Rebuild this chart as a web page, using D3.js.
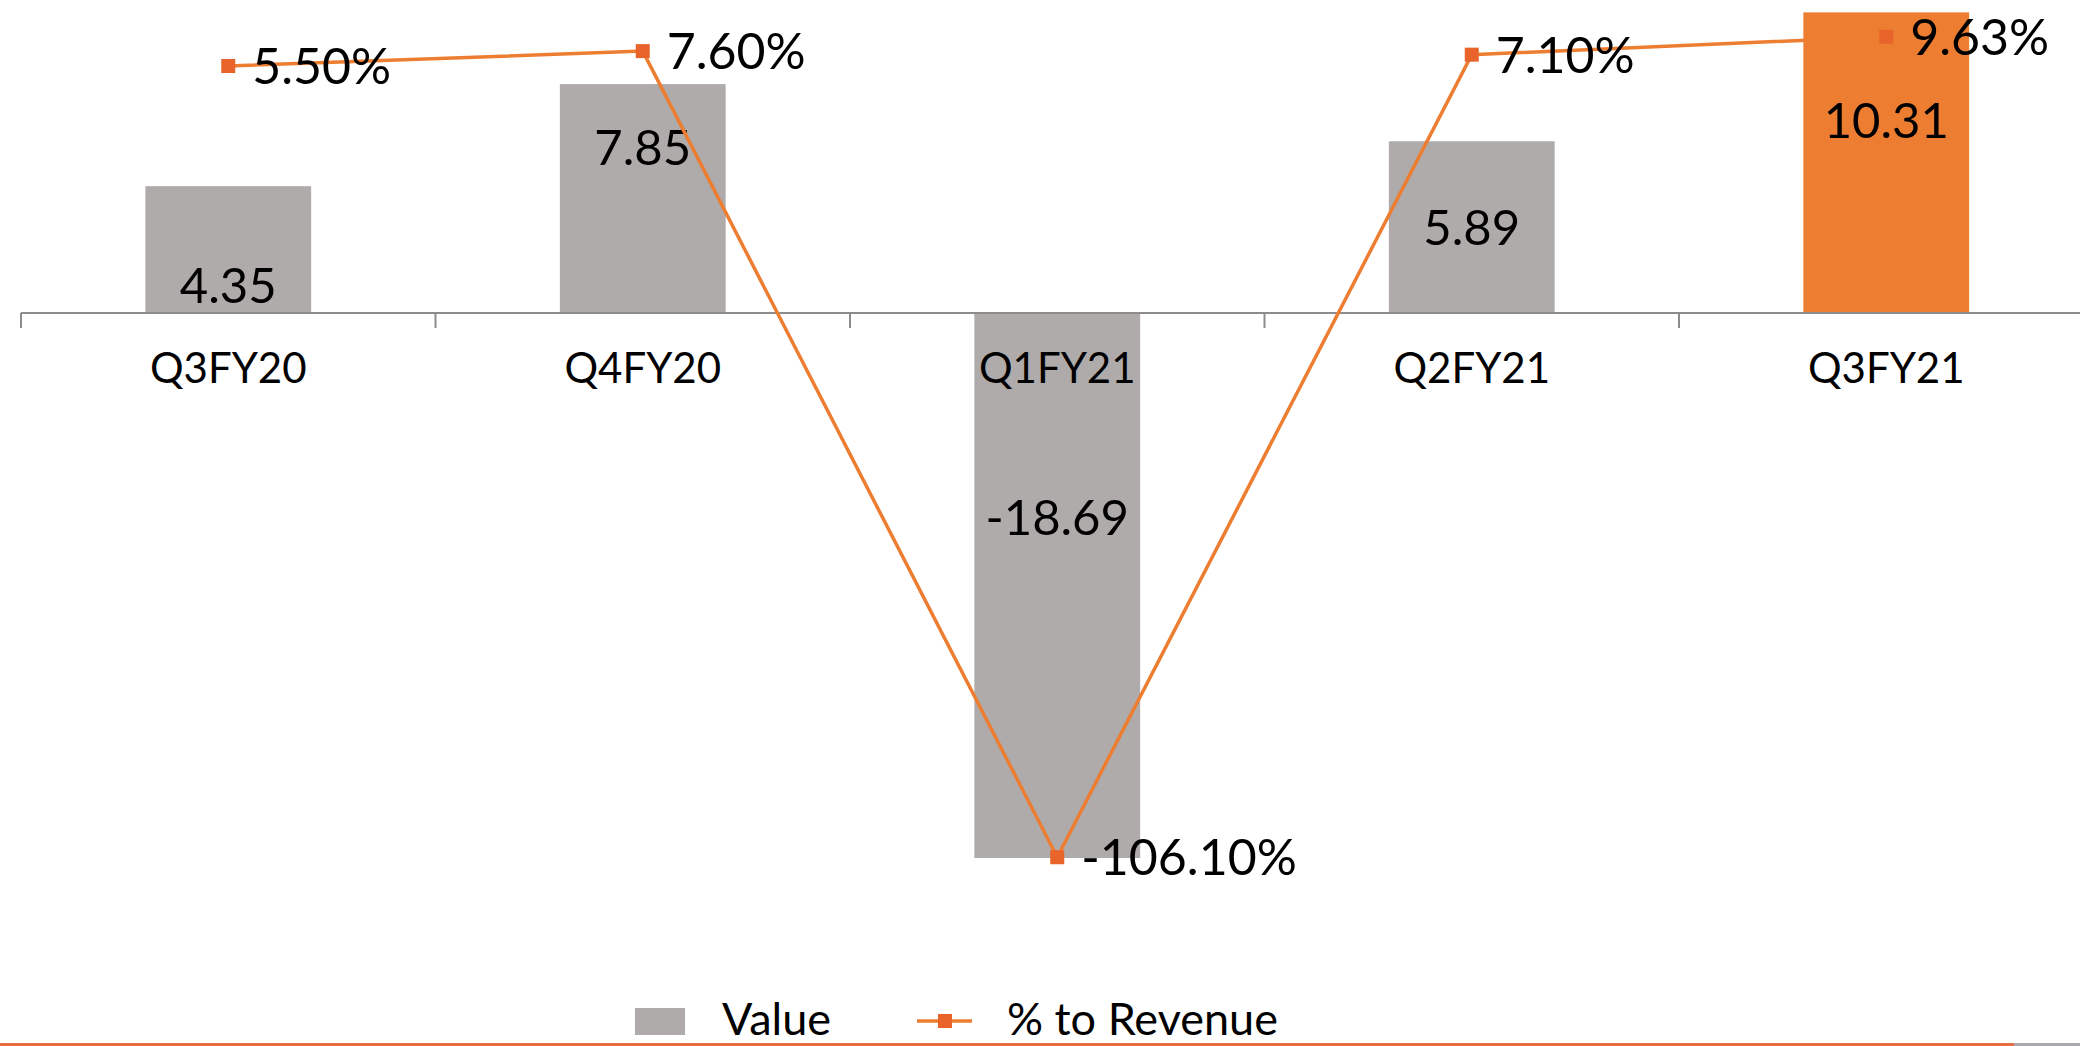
<!DOCTYPE html>
<html>
<head>
<meta charset="utf-8">
<script src="https://d3js.org/d3.v7.min.js"></script>
<style>
  html, body { margin: 0; padding: 0; background: #fff; overflow: hidden; }
  text { font-family: Lato, "Open Sans", sans-serif; fill: #000; }
</style>
</head>
<body>
<div id="my_chart"></div>
<script>
// data
var categories = ["Q3FY20", "Q4FY20", "Q1FY21", "Q2FY21", "Q3FY21"];
var values = [4.35, 7.85, -18.69, 5.89, 10.31];
var valueLabels = ["4.35", "7.85", "-18.69", "5.89", "10.31"];
var pctRevenue = [5.50, 7.60, -106.10, 7.10, 9.63];
var pctLabels = ["5.50%", "7.60%", "-106.10%", "7.10%", "9.63%"];
var seriesNames = ["Value", "% to Revenue"];

// where each value label sits inside its bar (in bar units, as placed in the original)
var valueLabelAt = [0.96, 5.68, -7.0, 2.93, 6.62];

var width = 2080, height = 1046;
var svg, x, y, y2;

initChart();

function initChart()
{
  svg = d3.select("#my_chart")
    .append("svg")
    .attr("width", width)
    .attr("height", height);

  // category scale, bands run from the left axis edge past the right border
  x = d3.scaleBand()
    .domain(categories)
    .range([21, 2093.5])
    .padding(0);

  // primary axis for the bars
  y = d3.scaleLinear()
    .domain([-20, 12])
    .range([896.2, -36.9]);

  // secondary axis for the percentage line
  y2 = d3.scaleLinear()
    .domain([-120, 10])
    .range([955.8, 34.1]);

  var barW = x.bandwidth() * 0.4;

  // bars
  svg.selectAll("rect.bar")
    .data(values)
    .enter()
    .append("rect")
    .attr("class", "bar")
    .attr("x", function(d, i) { return x(categories[i]) + (x.bandwidth() - barW) / 2; })
    .attr("y", function(d) { return y(Math.max(0, d)); })
    .attr("width", barW)
    .attr("height", function(d) { return Math.abs(y(d) - y(0)); })
    .attr("fill", function(d, i) { return i == categories.length - 1 ? "#ED7D31" : "#AEABAA"; });

  // X axis on the zero line
  var xAxis = svg.append("g")
    .attr("transform", "translate(0," + y(0) + ")")
    .call(d3.axisBottom(x).tickSize(0).tickSizeOuter(0));

  xAxis.select(".domain")
    .attr("d", "M21,0H2080")
    .attr("stroke", "#8C8C8C")
    .attr("stroke-width", 2);

  xAxis.selectAll(".tick text")
    .attr("y", 70)
    .attr("dy", null)
    .style("font-size", "42px")
    .style("font-family", "Lato, sans-serif")
    .attr("fill", "#000");

  // tick marks between categories (Excel style)
  var bounds = categories.map(function(c) { return x(c); }).concat([x.range()[1]]);
  xAxis.selectAll("line.sep")
    .data(bounds)
    .enter()
    .append("line")
    .attr("class", "sep")
    .attr("x1", function(d) { return d; })
    .attr("x2", function(d) { return d; })
    .attr("y1", 0)
    .attr("y2", 15)
    .attr("stroke", "#8C8C8C")
    .attr("stroke-width", 2);

  // bar value labels
  svg.selectAll("text.vlab")
    .data(valueLabels)
    .enter()
    .append("text")
    .attr("class", "vlab")
    .attr("x", function(d, i) { return x(categories[i]) + x.bandwidth() / 2; })
    .attr("y", function(d, i) { return y(valueLabelAt[i]); })
    .attr("dy", "0.36em")
    .attr("text-anchor", "middle")
    .style("font-size", "49px")
    .text(function(d) { return d; });

  // percentage line
  var line = d3.line()
    .x(function(d, i) { return x(categories[i]) + x.bandwidth() / 2; })
    .y(function(d) { return y2(d); });

  svg.append("path")
    .datum(pctRevenue)
    .attr("d", line)
    .attr("fill", "none")
    .attr("stroke", "#ED7D31")
    .attr("stroke-width", 3.5);

  svg.selectAll("rect.mark")
    .data(pctRevenue)
    .enter()
    .append("rect")
    .attr("class", "mark")
    .attr("x", function(d, i) { return x(categories[i]) + x.bandwidth() / 2 - 7; })
    .attr("y", function(d) { return y2(d) - 7; })
    .attr("width", 14)
    .attr("height", 14)
    .attr("fill", "#E8642A");

  svg.selectAll("text.plab")
    .data(pctLabels)
    .enter()
    .append("text")
    .attr("class", "plab")
    .attr("x", function(d, i) { return x(categories[i]) + x.bandwidth() / 2 + 24; })
    .attr("y", function(d, i) { return y2(pctRevenue[i]); })
    .attr("dy", "0.36em")
    .style("font-size", "50px")
    .text(function(d) { return d; });

  // legend
  var legend = svg.append("g").attr("transform", "translate(0,1021)");

  legend.append("rect")
    .attr("x", 635)
    .attr("y", -13)
    .attr("width", 50)
    .attr("height", 27)
    .attr("fill", "#AEABAA");

  legend.append("text")
    .attr("x", 722)
    .attr("y", 14)
    .style("font-size", "45px")
    .text(seriesNames[0]);

  legend.append("line")
    .attr("x1", 917)
    .attr("x2", 972)
    .attr("y1", 0)
    .attr("y2", 0)
    .attr("stroke", "#ED7D31")
    .attr("stroke-width", 3.5);

  legend.append("rect")
    .attr("x", 938)
    .attr("y", -7)
    .attr("width", 14)
    .attr("height", 14)
    .attr("fill", "#E8642A");

  legend.append("text")
    .attr("x", 1007)
    .attr("y", 14)
    .style("font-size", "45px")
    .text(seriesNames[1]);

  // footer stripe of the slide
  svg.append("rect")
    .attr("x", 0)
    .attr("y", 1043)
    .attr("width", 2014)
    .attr("height", 3)
    .attr("fill", "#E4703F");

  svg.append("rect")
    .attr("x", 2014)
    .attr("y", 1043)
    .attr("width", 66)
    .attr("height", 3)
    .attr("fill", "#A9A9B0");
}
</script>
</body>
</html>
